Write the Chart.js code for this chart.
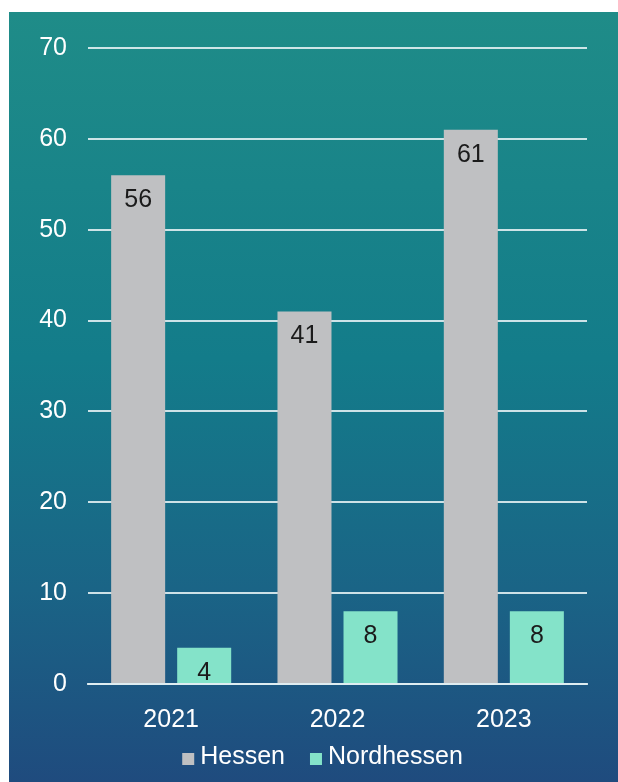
<!DOCTYPE html>
<html lang="de">
<head>
  <meta charset="UTF-8">
  <title>Hessen / Nordhessen</title>
  <script src="https://cdn.jsdelivr.net/npm/chart.js@4"></script>
  <style>
    body {
      margin: 0;
      padding: 0;
      background-color: #ffffff;
    }

    /* Hintergrund mit Verlauf */
    .panel {
      position: absolute;
      left: 9px;
      top: 12px;
      width: 609px;
      height: 770px;
      background: linear-gradient(to bottom, #1f8c88 0%, #137c8a 45%, #1a6486 75%, #1f4b7e 100%);
    }

    canvas {
      display: block;
    }
  </style>
</head>
<body>
  <div class="panel">
    <canvas id="chart" width="609" height="770"></canvas>
  </div>

  <script>
  // Daten
  const years = ['2021', '2022', '2023'];
  const hessen = [56, 41, 61];
  const nordhessen = [4, 8, 8];
  const yTicks = [0, 10, 20, 30, 40, 50, 60, 70];

  const fontFamily = "'Liberation Sans', Arial, sans-serif";
  const fontSize = 25;
  const gridColor = 'rgba(225, 238, 242, 0.9)';

  // Werte oben in den Balken
  const barValues = {
    id: 'barValues',
    afterDatasetsDraw(chart) {
      const ctx = chart.ctx;
      ctx.save();
      ctx.font = fontSize + 'px ' + fontFamily;
      ctx.fillStyle = '#1b1b1b';
      ctx.textAlign = 'center';
      ctx.textBaseline = 'middle';
      chart.data.datasets.forEach((ds, i) => {
        chart.getDatasetMeta(i).data.forEach((bar, j) => {
          ctx.fillText(ds.data[j], bar.x, bar.y + 25);
        });
      });
      ctx.restore();
    }
  };

  // Legende unten
  const legendBox = {
    id: 'legendBox',
    afterDraw(chart) {
      const ctx = chart.ctx;
      ctx.save();
      ctx.font = fontSize + 'px ' + fontFamily;
      ctx.textBaseline = 'middle';
      const box = 12, gap = 6, spacing = 25;
      const items = chart.data.datasets.map(ds => ({
        label: ds.label,
        color: ds.backgroundColor,
        w: box + gap + ctx.measureText(ds.label).width
      }));
      const total = items.reduce((s, it) => s + it.w, 0) + spacing * (items.length - 1);
      let x = chart.width / 2 + 9 - total / 2;
      const y = 745;
      items.forEach(it => {
        ctx.fillStyle = it.color;
        ctx.fillRect(x, y - box / 2 + 2, box, box);
        ctx.fillStyle = '#ffffff';
        ctx.fillText(it.label, x + box + gap, y);
        x += it.w + spacing;
      });
      ctx.restore();
    }
  };

  new Chart(document.getElementById('chart'), {
    type: 'bar',
    data: {
      labels: years,
      datasets: [
        {
          label: 'Hessen',
          data: hessen,
          backgroundColor: '#bfc0c2'
        },
        {
          label: 'Nordhessen',
          data: nordhessen,
          backgroundColor: '#84e3c9'
        }
      ]
    },
    options: {
      responsive: false,
      animation: false,
      categoryPercentage: 0.794,
      barPercentage: 0.818,
      layout: {
        padding: { top: 36, right: 31, bottom: 48, left: 0 }
      },
      plugins: {
        legend: { display: false },
        tooltip: { enabled: false }
      },
      scales: {
        x: {
          grid: { display: false },
          border: { color: gridColor, width: 2 },
          ticks: {
            color: '#ffffff',
            font: { family: fontFamily, size: fontSize },
            padding: 13
          },
          afterFit(scale) { scale.height = 50; }
        },
        y: {
          min: 0,
          max: 70,
          afterBuildTicks(scale) {
            scale.ticks = yTicks.map(v => ({ value: v }));
          },
          grid: {
            color: gridColor,
            lineWidth: 2,
            drawTicks: false
          },
          border: { display: false },
          ticks: {
            color: '#ffffff',
            font: { family: fontFamily, size: fontSize },
            padding: 21
          },
          afterFit(scale) { scale.width = 79; }
        }
      }
    },
    plugins: [barValues, legendBox]
  });
  </script>
</body>
</html>
